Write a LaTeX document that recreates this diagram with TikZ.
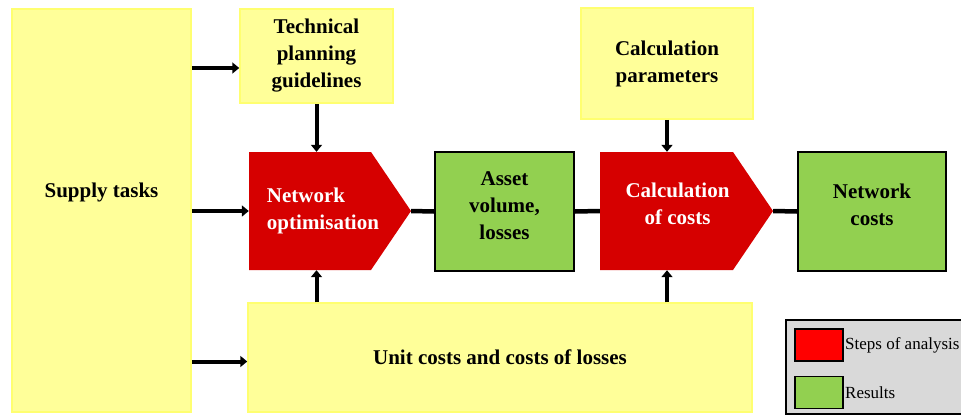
\documentclass[tikz,border=0pt]{standalone}
\usepackage{fontspec}
\setmainfont{Liberation Serif}
\usetikzlibrary{arrows.meta}

\definecolor{padyellow}{HTML}{FFFF99}
\definecolor{padedge}{HTML}{FFFF70}
\definecolor{stepred}{HTML}{D60000}
\definecolor{keyred}{HTML}{FF0000}
\definecolor{resgreen}{HTML}{92D050}
\definecolor{keygray}{HTML}{D9D9D9}

\tikzset{
  boxfont/.style={font=\fontsize{21}{27}\selectfont\bfseries},
  inbox/.style={rectangle,draw=padedge,fill=padyellow,line width=1.5pt,align=center,boxfont},
  resbox/.style={rectangle,draw=black,fill=resgreen,line width=1.5pt,align=center,boxfont},
  stepbox/.style={rectangle,text=white,boxfont,
    path picture={\fill[stepred] (path picture bounding box.north west)
      -- ([xshift=-40pt]path picture bounding box.north east)
      -- (path picture bounding box.east)
      -- ([xshift=-40pt]path picture bounding box.south east)
      -- (path picture bounding box.south west) -- cycle;}},
  flow/.style={line width=4pt,-{Triangle[length=7pt,width=11pt]}},
  link/.style={line width=4.5pt},
  swatch/.style={rectangle,draw=black,line width=1.5pt,minimum width=48pt,minimum height=32pt},
  keytext/.style={anchor=west,inner sep=0pt,font=\fontsize{17}{20}\selectfont}
}

\begin{document}
\begin{tikzpicture}[x=1pt,y=-1pt]
  \useasboundingbox (0,0) rectangle (961,416);
  % inputs
  \node (supply) [inbox,minimum width=179pt,minimum height=403pt,text depth=40pt] at (101.5,210.5) {Supply tasks};
  \node (tech) [inbox,minimum width=153pt,minimum height=94pt] at (316.5,56) {Technical\\planning\\guidelines};
  \node (params) [inbox,minimum width=172pt,minimum height=111pt] at (667,63.5) {Calculation\\parameters};
  \node (unit) [inbox,minimum width=504pt,minimum height=109pt] at (500,357.5) {Unit costs and costs of losses};
  % steps and results
  \node (netopt) [stepbox,align=left,minimum width=162pt,minimum height=118pt] at (330,211) {Network\\optimisation\hspace*{14pt}};
  \node (asset) [resbox,minimum width=139pt,minimum height=119pt,text depth=12pt] at (504.5,211.5) {Asset\\volume,\\losses};
  \node (calc) [stepbox,align=center,minimum width=173pt,minimum height=118pt,text depth=14pt] at (686.5,211) {Calculation\hspace*{18pt}\\of costs\hspace*{18pt}};
  \node (netcost) [resbox,minimum width=148pt,minimum height=119pt,text depth=14pt] at (872,211.5) {Network\\costs};

  \draw[flow] ([yshift=-12pt]tech.west -| supply.east) -- ([yshift=-12pt]tech.west);
  \draw[flow] (supply.east |- netopt.west) -- (netopt.west);
  \draw[flow] ([yshift=-4pt]supply.east |- unit.west) -- ([yshift=-4pt]unit.west);
  \draw[flow] (tech.south) -- (tech.south |- netopt.north);
  \draw[flow] (unit.north -| tech.south) -- (tech.south |- netopt.south);
  \draw[flow] (params.south) -- (params.south |- calc.north);
  \draw[flow] (unit.north -| params.south) -- (params.south |- calc.south);
  \draw[link] (netopt.east) -- (asset.west);
  \draw[link] (asset.east) -- (calc.west);
  \draw[link] (calc.east) -- (netcost.west);

  % key
  \node (key) [rectangle,draw=black,fill=keygray,line width=1.5pt,minimum width=190pt,minimum height=94pt] at (881,367) {};
  \node (keystep) [swatch,fill=keyred] at (819,345) {};
  \node (keyres) [swatch,fill=resgreen] at (819,392.5) {};
  \node (keysteptext) [keytext] at (845,345) {Steps of analysis};
  \node (keyrestext) [keytext] at (845,392.5) {Results};
\end{tikzpicture}
\end{document}
